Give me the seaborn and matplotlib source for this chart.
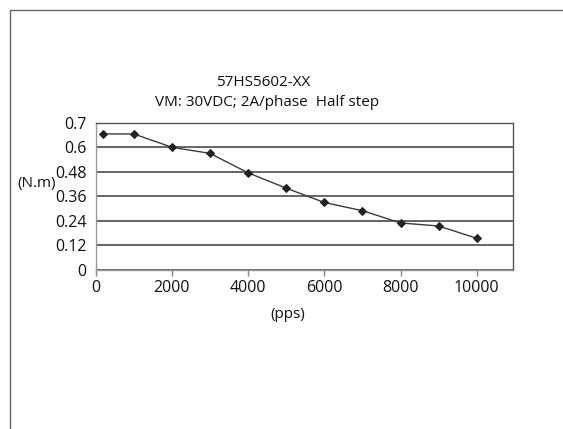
import matplotlib
matplotlib.use("Agg")
import matplotlib.pyplot as plt
import matplotlib.lines as mlines
import pandas as pd
import seaborn as sns

# speed (pps) vs torque (N.m)
speed = [200, 1000, 2000, 3000, 4000, 5000, 6000, 7000, 8000, 9000, 10000]
torque = [0.665, 0.665, 0.60, 0.57, 0.475, 0.40, 0.33, 0.29, 0.23, 0.215, 0.155]
y_ticks = [0, 0.12, 0.24, 0.36, 0.48, 0.6, 0.72]
y_labels = ["0", "0.12", "0.24", "0.36", "0.48", "0.6", "0.7"]
x_ticks = [0, 2000, 4000, 6000, 8000, 10000]


def main():
    sns.set_style("white")
    plt.rcParams['font.family'] = ['Open Sans', 'DejaVu Sans']

    df = pd.DataFrame({'pps': speed, 'torque': torque})

    W, H = 563, 429
    fig = plt.figure(figsize=(W / 100, H / 100), dpi=100)
    left, right, top, bottom = 95.7, 513.3, 122.7, 270
    ax = fig.add_axes([left / W, 1 - bottom / H, (right - left) / W, (bottom - top) / H])

    sns.lineplot(data=df, x='pps', y='torque', ax=ax, color='#3a3a3a', linewidth=1.0,
                 marker='D', markersize=4, markerfacecolor='#222222', markeredgecolor='#222222')

    ax.set_xlim(0, 10960)
    ax.set_ylim(0, 0.72)
    ax.set_yticks(y_ticks)
    ax.set_yticklabels(y_labels)
    ax.set_xticks(x_ticks)
    ax.set_xticklabels([str(t) for t in x_ticks])
    ax.yaxis.grid(True, color='#4a4a4a', linewidth=1.2)
    ax.set_axisbelow(True)
    ax.tick_params(axis='y', length=4.5, width=1.0, color='#555555', labelsize=11.5, pad=2, labelcolor='#111111')
    ax.tick_params(axis='x', length=4, width=1.0, color='#888888', direction='out', labelsize=11.5,
                   pad=3, labelcolor='#111111', bottom=True)
    for side in ['left', 'bottom']:
        ax.spines[side].set_color('#999999')
        ax.spines[side].set_linewidth(1.0)
    for side in ['top', 'right']:
        ax.spines[side].set_color('#555555')
        ax.spines[side].set_linewidth(1.0)
    ax.set_xlabel('')
    ax.set_ylabel('')

    fig.text(17 / W, 1 - 184 / H, '(N.m)', fontsize=11, ha='left', va='center', color='#111111')
    fig.text(288 / W, 1 - 315 / H, '(pps)', fontsize=11, ha='center', va='center', color='#111111')
    fig.text(263 / W, 1 - 82 / H, '57HS5602-XX', fontsize=11, ha='center', va='center', color='#111111')
    fig.text(267 / W, 1 - 102 / H, 'VM: 30VDC; 2A/phase  Half step', fontsize=11, ha='center',
             va='center', color='#111111')

    # outer frame (top and left edges)
    fig.add_artist(mlines.Line2D([10 / W, 1], [1 - 9.5 / H, 1 - 9.5 / H], color='#666666', linewidth=1.0,
                                 transform=fig.transFigure))
    fig.add_artist(mlines.Line2D([10 / W, 10 / W], [0, 1 - 9.5 / H], color='#666666', linewidth=1.0,
                                 transform=fig.transFigure))

    fig.savefig('out.png', dpi=100)


if __name__ == "__main__":
    main()
